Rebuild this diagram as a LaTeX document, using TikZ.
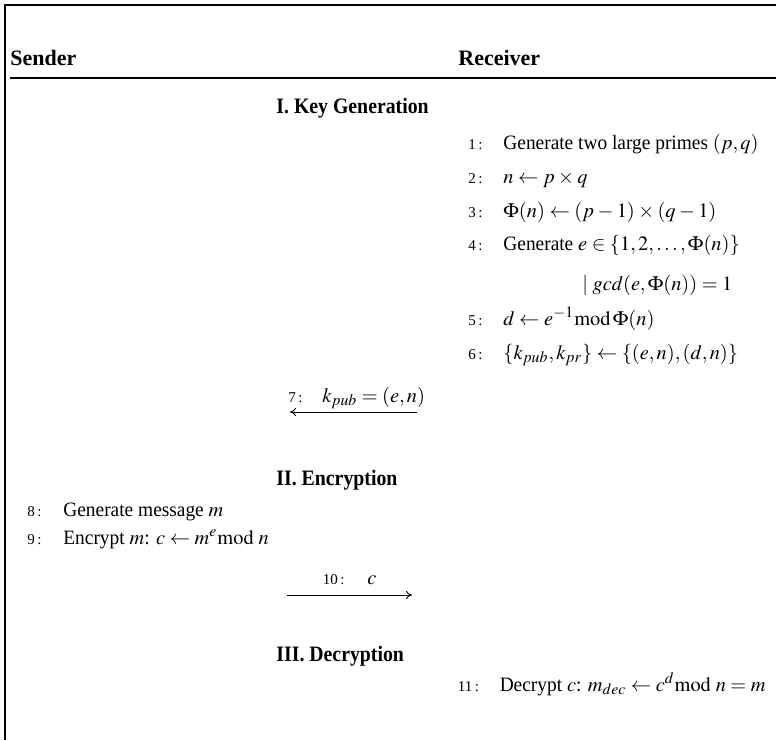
\documentclass[tikz,border=0pt]{standalone}
\usepackage{mathptmx}
\usepackage[no-math]{fontspec}
\setmainfont{Liberation Serif}
\newfontfamily\bodyfont{Liberation Serif}[FakeStretch=0.95]
\newfontfamily\condfont{Liberation Serif}[FakeStretch=0.9]
\usetikzlibrary{arrows.meta}
% slightly larger sub- and superscripts in the protocol steps
\DeclareMathSizes{10.2}{10.2}{7.9}{6}
\begin{document}
% tighter math spacing around binary operators and relations
\medmuskip=3mu
\thickmuskip=4mu
\begin{tikzpicture}[x=0.5pt,y=-0.5pt,
  txt/.style={anchor=base west,inner sep=0pt,font=\fontsize{10.2}{13}\bodyfont},
  party/.style={anchor=base west,inner sep=0pt,font=\fontsize{11}{13}\selectfont\bfseries},
  hdr/.style={anchor=base west,inner sep=0pt,font=\fontsize{11}{13}\condfont\bfseries},
  num/.style={anchor=base east,inner sep=0pt,font=\fontsize{7.5}{9}\selectfont},
  frame/.style={line width=0.8pt},
  msg/.style={draw,line width=0.45pt,-{To[length=3pt,width=4pt]}}]
\useasboundingbox (0,0) rectangle (776,740);

% outer frame (top and left edges) and header rule
\coordinate (ftl) at (5,5);
\coordinate (ftr) at (776,5);
\coordinate (fbl) at (5,740);
\draw[frame] (ftr) -- (ftl) -- (fbl);
\coordinate (rl) at (10,78);
\coordinate (rr) at (776,78);
\draw[frame] (rl) -- (rr);

% party names
\node[party] (sender) at (10,65) {Sender};
\node[party] (receiver) at (458,65) {Receiver};

% I. Key Generation
\node[hdr] (kg) at (276,113) {I. Key Generation};
\node[num] (n1) at (483,149) {1\,:};
\node[txt] (l1) at (503,149) {Generate two large primes $(p,q)$};
\node[num] (n2) at (483,183) {2\,:};
\node[txt] (l2) at (503,183) {$n \leftarrow p \times q$};
\node[num] (n3) at (483,217) {3\,:};
\node[txt] (l3) at (503,217) {$\Phi(n) \leftarrow (p-1)\times(q-1)$};
\node[num] (n4) at (483,250) {4\,:};
\node[txt] (l4) at (503,250) {Generate $e \in \{1,2,\ldots,\Phi(n)\}$};
\node[txt] (l4b) at (582,290) {$\mid gcd(e,\Phi(n)) = 1$};
\node[num] (n5) at (483,325) {5\,:};
\node[txt] (l5) at (503,325) {$d \leftarrow e^{-1}\mathrm{mod}\,\Phi(n)$};
\node[num] (n6) at (483,359) {6\,:};
\node[txt] (l6) at (503,359) {$\{k_{pub},k_{pr}\} \leftarrow \{(e,n),(d,n)\}$};

% public key to the sender
\node[num] (n7) at (303,402) {7\,:};
\node[txt] (l7) at (322,402) {$k_{pub} = (e,n)$};
\coordinate (a7r) at (417,412);
\coordinate (a7l) at (290,412);
\draw[msg] (a7r) -- (a7l);

% II. Encryption
\node[hdr] (enc) at (276,485) {II. Encryption};
\node[num] (n8) at (42,516) {8\,:};
\node[txt] (l8) at (63,516) {Generate message $m$};
\node[num] (n9) at (42,544) {9\,:};
\node[txt] (l9) at (63,544) {Encrypt $m$: $c \leftarrow m^{e}\mathrm{mod}\ n$};

% ciphertext to the receiver
\node[num] (n10) at (345,584) {10\,:};
\node[txt] (l10) at (367,584) {$c$};
\coordinate (a10l) at (287,595);
\coordinate (a10r) at (412,595);
\draw[msg] (a10l) -- (a10r);

% III. Decryption
\node[hdr] (dec) at (276,661) {III. Decryption};
\node[txt,anchor=base east] (l11) at (766,691) {Decrypt $c$: $m_{dec} \leftarrow c^{d}\mathrm{mod}\ n = m$};
\node[num,xshift=-10pt] (n11) at (l11.base west) {11\,:};
\end{tikzpicture}
\end{document}
